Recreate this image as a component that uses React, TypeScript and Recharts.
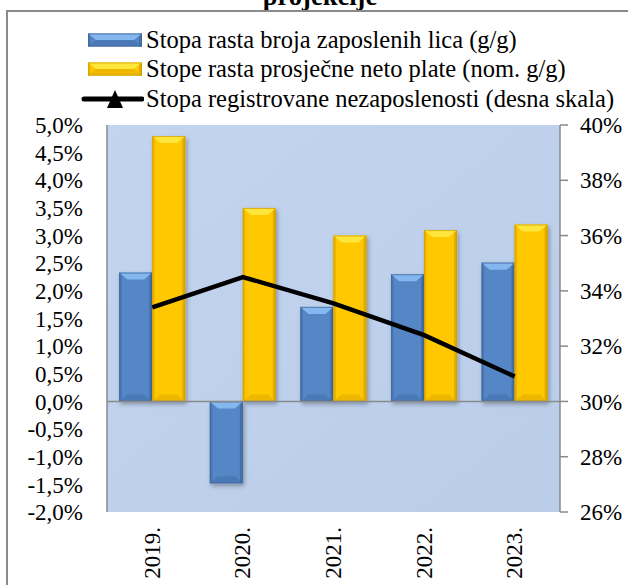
import React from 'react';
import { ComposedChart, Bar, Line, XAxis, YAxis, ReferenceLine, CartesianGrid, Legend } from 'recharts';

const years = ['2019.', '2020.', '2021.', '2022.', '2023.'];
const employmentGrowth = [2.33, -1.48, 1.71, 2.3, 2.51];
const wageGrowth = [4.8, 3.5, 3.0, 3.1, 3.2];
const unemploymentRate = [33.4, 34.5, 33.55, 32.4, 30.9];
const leftTicks = [-2, -1.5, -1, -0.5, 0, 0.5, 1, 1.5, 2, 2.5, 3, 3.5, 4, 4.5, 5];
const rightTicks = [26, 28, 30, 32, 34, 36, 38, 40];
const seriesNames = [
  'Stopa rasta broja zaposlenih lica (g/g)',
  'Stope rasta prosječne neto plate (nom. g/g)',
  'Stopa registrovane nezaposlenosti (desna skala)',
];
const titleText = 'projekcije';

const data = years.map((y, i) => ({
  year: y,
  emp: employmentGrowth[i],
  wage: wageGrowth[i],
  unemp: unemploymentRate[i],
}));

const FONT = "'Liberation Serif', 'Times New Roman', Times, serif";

type Pal = { main: string; light: string; dark: string; side: string; edge: string };
const bluePal: Pal = { main: '#5586C6', light: '#84B6EF', dark: '#4571AB', side: '#4A77B2', edge: '#3E6598' };
const yellowPal: Pal = { main: '#FFC800', light: '#FFE63C', dark: '#E3AC00', side: '#EDB700', edge: '#C99A00' };

function BevelRect({ x, y, w, h, c }: { x: number; y: number; w: number; h: number; c: Pal }) {
  const b = Math.min(7, h / 2);
  const s = Math.min(8, w / 3);
  return (
    <g>
      <rect x={x} y={y} width={w} height={h} fill={c.main} />
      <rect x={x} y={y} width={2.5} height={h} fill={c.side} />
      <rect x={x + w - 3} y={y} width={3} height={h} fill={c.dark} />
      <polygon points={`${x},${y} ${x + w},${y} ${x + w - s},${y + b} ${x + s},${y + b}`} fill={c.light} />
      <polygon points={`${x},${y + h} ${x + w},${y + h} ${x + w - s},${y + h - b} ${x + s},${y + h - b}`} fill={c.dark} opacity={0.6} />
      <rect x={x + 0.5} y={y + 0.5} width={w - 1} height={h - 1} fill="none" stroke={c.edge} strokeWidth={1} opacity={0.7} />
    </g>
  );
}

const makeShape = (c: Pal) => (props: any) => {
  let { x, y, width, height } = props;
  if (height < 0) {
    y = y + height;
    height = -height;
  }
  if (!width || !height) return null;
  return (
    <g filter="url(#barShadow)">
      <BevelRect x={x} y={y} w={width} h={height} c={c} />
    </g>
  );
};

const blueShape = makeShape(bluePal);
const yellowShape = makeShape(yellowPal);

const XTick = (props: any) => {
  const { x, payload } = props;
  return (
    <text
      transform={`translate(${x},527) rotate(-90)`}
      textAnchor="end"
      dy="0.33em"
      style={{ fontFamily: FONT }}
      fontSize={23}
      fill="#000"
    >
      {payload.value}
    </text>
  );
};

const fmtLeft = (v: number) => v.toFixed(1).replace('.', ',') + '%';
const fmtRight = (v: number) => `${v}%`;

const renderLegend = () => {
  const rowTops = [40, 69, 99];
  return (
    <div style={{ position: 'relative', width: 628, height: 120, fontFamily: FONT, fontSize: 24.5, color: '#000' }}>
      {seriesNames.map((name, i) => (
        <div key={name}>
          <svg
            style={{ position: 'absolute', left: 80, top: rowTops[i] - 12 }}
            width={64}
            height={24}
          >
            {i === 0 && <BevelRect x={8} y={5.5} w={54} h={13} c={bluePal} />}
            {i === 1 && <BevelRect x={8} y={5.5} w={54} h={13} c={yellowPal} />}
            {i === 2 && (
              <g>
                <line x1={4} y1={12} x2={62} y2={12} stroke="#000" strokeWidth={5} strokeLinecap="round" />
                <polygon points="35,3 27,21 43,21" fill="#000" />
              </g>
            )}
          </svg>
          <div
            style={{
              position: 'absolute',
              left: 146,
              top: rowTops[i] - 15,
              height: 30,
              lineHeight: '30px',
              whiteSpace: 'nowrap',
              fontFamily: FONT,
            }}
          >
            {name}
          </div>
        </div>
      ))}
    </div>
  );
};

export default function App() {
  return (
    <div
      style={{
        position: 'absolute',
        left: 0,
        top: 0,
        width: 628,
        height: 585,
        overflow: 'hidden',
        background: '#fff',
        fontFamily: FONT,
      }}
    >
      <div
        style={{
          position: 'absolute',
          left: 6,
          top: -17,
          width: 628,
          textAlign: 'center',
          fontFamily: FONT,
          fontWeight: 'bold',
          fontSize: 26.5,
          lineHeight: '26.5px',
        }}
      >
        {titleText}
      </div>
      <div
        style={{
          position: 'absolute',
          left: 6,
          top: 10,
          width: 700,
          height: 700,
          border: '2px solid #8a8a8a',
          background: '#fff',
        }}
      />
      <div style={{ position: 'absolute', left: 0, top: 0 }}>
        <ComposedChart
          width={628}
          height={585}
          data={data}
          margin={{ top: 125, right: 0, bottom: 0, left: 0 }}
          barCategoryGap="13.5%"
          barGap={0}
          style={{ fontFamily: FONT }}
        >
          <defs>
            <linearGradient id="plotBg" x1="0" y1="0" x2="1" y2="1">
              <stop offset="0%" stopColor="#C3D4EE" />
              <stop offset="100%" stopColor="#BACDE9" />
            </linearGradient>
            <filter id="barShadow" x="-30%" y="-30%" width="160%" height="160%">
              <feDropShadow dx="1.5" dy="2.5" stdDeviation="2" floodColor="#000" floodOpacity="0.3" />
            </filter>
          </defs>
          <CartesianGrid yAxisId="left" horizontal={false} vertical={false} fill="url(#plotBg)" stroke="none" />
          <XAxis
            dataKey="year"
            height={73}
            axisLine={false}
            tickLine={false}
            tick={<XTick />}
            interval={0}
          />
          <YAxis
            yAxisId="left"
            orientation="left"
            width={107}
            domain={[-2, 5]}
            ticks={leftTicks}
            interval={0}
            tickFormatter={fmtLeft}
            axisLine={{ stroke: '#8a8a8a', strokeWidth: 1.5 }}
            tickLine={false}
            tickSize={8}
            tickMargin={16}
            tick={{ fontFamily: FONT, fontSize: 23, fill: '#000', style: { fontFamily: FONT } }}
          />
          <YAxis
            yAxisId="right"
            orientation="right"
            width={68}
            domain={[26, 40]}
            ticks={rightTicks}
            interval={0}
            tickFormatter={fmtRight}
            axisLine={{ stroke: '#8a8a8a', strokeWidth: 1.5 }}
            tickLine={{ stroke: '#8a8a8a', strokeWidth: 1.5 }}
            tickSize={8}
            tickMargin={12}
            tick={{ fontFamily: FONT, fontSize: 23, fill: '#000', style: { fontFamily: FONT } }}
          />
          <ReferenceLine yAxisId="left" y={0} stroke="#8a8a8a" strokeWidth={1.5} />
          <Legend
            layout="horizontal"
            verticalAlign="middle"
            align="center"
            wrapperStyle={{ top: 0, left: 0, width: 628, height: 120 }}
            content={renderLegend}
          />
          <Bar yAxisId="left" dataKey="emp" name={seriesNames[0]} fill={bluePal.main} shape={blueShape} isAnimationActive={false} />
          <Bar yAxisId="left" dataKey="wage" name={seriesNames[1]} fill={yellowPal.main} shape={yellowShape} isAnimationActive={false} />
          <Line
            yAxisId="right"
            dataKey="unemp"
            name={seriesNames[2]}
            type="linear"
            stroke="#000"
            strokeWidth={4.5}
            dot={false}
            activeDot={false}
            isAnimationActive={false}
          />
        </ComposedChart>
      </div>
    </div>
  );
}
